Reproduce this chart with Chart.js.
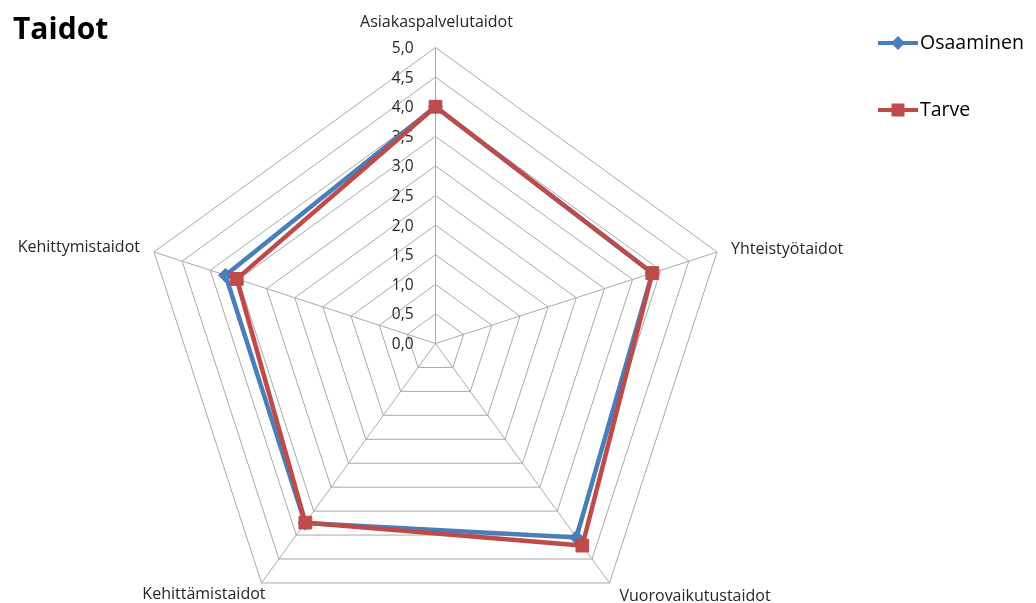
<!DOCTYPE html>
<html>
<head>
<meta charset="utf-8">
<title>Taidot</title>
<script src="https://cdn.jsdelivr.net/npm/chart.js@4/dist/chart.umd.min.js"></script>
<style>
  html, body { margin: 0; padding: 0; background: #ffffff; }
  #wrap { position: relative; width: 1036px; height: 603px; }
</style>
</head>
<body>
<div id="wrap"><canvas id="chart" width="1036" height="603"></canvas></div>
<script>
// Chart content
const chartTitle = 'Taidot';
const categories = ['Asiakaspalvelutaidot', 'Yhteistyötaidot', 'Vuorovaikutustaidot', 'Kehittämistaidot', 'Kehittymistaidot'];
const seriesNames = ['Osaaminen', 'Tarve'];
const osaaminenValues = [4.0, 3.85, 4.05, 3.75, 3.73];
const tarveValues = [4.0, 3.85, 4.22, 3.74, 3.53];
const tickValues = [0, 0.5, 1, 1.5, 2, 2.5, 3, 3.5, 4, 4.5, 5];
const tickLabels = ['0,0', '0,5', '1,0', '1,5', '2,0', '2,5', '3,0', '3,5', '4,0', '4,5', '5,0'];

// Layout and styling
const FONT = '"Open Sans", "DejaVu Sans", sans-serif';
const CENTER = { x: 435.5, y: 343.5 };
const RADIUS = 296;
const GRID_COLOR = '#a9a9a9';
const BLUE = '#4a7ebb';
const RED = '#be4b48';
// label offsets from each outer vertex: [dx, dy, align]
const pointLabelOffsets = [
  [1, -25, 'center'],
  [14, -3, 'left'],
  [10, 13, 'left'],
  [4, 11, 'right'],
  [-14, -5, 'right']
];

const decorations = {
  id: 'decorations',
  beforeDatasetsDraw(chart) {
    const ctx = chart.ctx;
    const scale = chart.scales.r;
    ctx.save();
    ctx.fillStyle = '#262626';
    ctx.font = '15.5px ' + FONT;
    ctx.textAlign = 'right';
    ctx.textBaseline = 'middle';
    tickValues.forEach((v, i) => {
      const d = scale.getDistanceFromCenterForValue(v);
      ctx.fillText(tickLabels[i], scale.xCenter - 22, scale.yCenter - d + 1);
    });
    ctx.restore();
  },
  afterDraw(chart) {
    const ctx = chart.ctx;
    const scale = chart.scales.r;
    ctx.save();

    // title
    ctx.fillStyle = '#000000';
    ctx.font = 'bold 30px ' + FONT;
    ctx.textAlign = 'left';
    ctx.textBaseline = 'middle';
    ctx.fillText(chartTitle, 13, 30);

    // category labels around the web
    ctx.fillStyle = '#262626';
    ctx.font = '16px ' + FONT;
    ctx.textBaseline = 'middle';
    const outer = scale.getDistanceFromCenterForValue(scale.max);
    categories.forEach((name, i) => {
      const p = scale.getPointPosition(i, outer);
      const [dx, dy, align] = pointLabelOffsets[i];
      ctx.textAlign = align;
      ctx.fillText(name, p.x + dx, p.y + dy);
    });

    // legend
    const legendY = [43, 110];
    chart.data.datasets.forEach((ds, i) => {
      const y = legendY[i];
      ctx.strokeStyle = ds.borderColor;
      ctx.lineWidth = 4;
      ctx.beginPath();
      ctx.moveTo(878, y);
      ctx.lineTo(918, y);
      ctx.stroke();
      ctx.fillStyle = ds.pointBackgroundColor;
      const cx = 898;
      if (ds.pointStyle === 'rectRot') {
        const r = 7;
        ctx.beginPath();
        ctx.moveTo(cx, y - r);
        ctx.lineTo(cx + r, y);
        ctx.lineTo(cx, y + r);
        ctx.lineTo(cx - r, y);
        ctx.closePath();
        ctx.fill();
      } else {
        ctx.fillRect(cx - 6.5, y - 6.5, 13, 13);
      }
      ctx.fillStyle = '#000000';
      ctx.font = '19.5px ' + FONT;
      ctx.textAlign = 'left';
      ctx.textBaseline = 'middle';
      ctx.fillText(ds.label, 920, y);
    });
    ctx.restore();
  }
};

new Chart(document.getElementById('chart'), {
  type: 'radar',
  data: {
    labels: categories,
    datasets: [
      {
        label: seriesNames[0],
        data: osaaminenValues,
        borderColor: BLUE,
        backgroundColor: BLUE,
        pointBackgroundColor: BLUE,
        pointBorderColor: BLUE,
        pointStyle: 'rectRot',
        pointRadius: 7,
        pointBorderWidth: 1,
        borderWidth: 4.5,
        fill: false,
        order: 1
      },
      {
        label: seriesNames[1],
        data: tarveValues,
        borderColor: RED,
        backgroundColor: RED,
        pointBackgroundColor: RED,
        pointBorderColor: RED,
        pointStyle: 'rect',
        pointRadius: 9,
        pointBorderWidth: 1,
        borderWidth: 4.5,
        fill: false,
        order: 0
      }
    ]
  },
  options: {
    responsive: false,
    animation: false,
    devicePixelRatio: 1,
    layout: { padding: 0 },
    plugins: {
      legend: { display: false },
      title: { display: false },
      tooltip: { enabled: false }
    },
    elements: { line: { tension: 0 } },
    scales: {
      r: {
        min: 0,
        max: 5,
        ticks: { stepSize: 0.5, display: false },
        pointLabels: { display: false },
        grid: { color: GRID_COLOR, lineWidth: 1 },
        angleLines: { color: GRID_COLOR, lineWidth: 1 },
        afterFit(scale) {
          scale.xCenter = CENTER.x;
          scale.yCenter = CENTER.y;
          scale.drawingArea = RADIUS;
        }
      }
    }
  },
  plugins: [decorations]
});
</script>
</body>
</html>
